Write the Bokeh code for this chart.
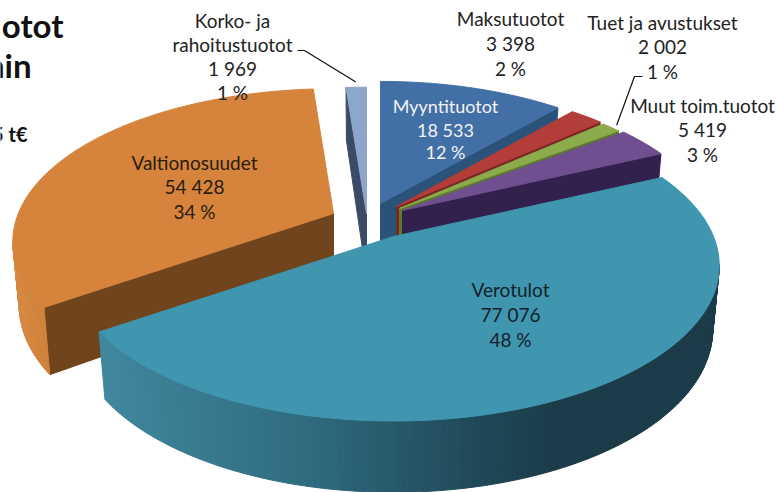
import math
from bokeh.plotting import figure
from bokeh.models import Range1d
from bokeh.core.properties import value
from bokeh.embed import file_html
from bokeh.resources import INLINE

# ---- chart values
names = ["Myyntituotot", "Maksutuotot", "Tuet ja avustukset", "Muut toim.tuotot", "Verotulot", "Valtionosuudet", "Korko- ja rahoitustuotot"]
values = [18533, 3398, 2002, 5419, 77076, 54428, 1969]
value_labels = ["18 533", "3 398", "2 002", "5 419", "77 076", "54 428", "1 969"]
pct_labels = ["12 %", "2 %", "1 %", "3 %", "48 %", "34 %", "1 %"]
title_lines = ["otot", "hin", "5 t€"]

# ---- styles and layout
top_col = ["#426fa6", "#b23d39", "#8cab4c", "#6f4f8f", "#4095af", "#d6843c", "#8fa6cc"]
cut_col = ["#2b5379", "#7a2624", "#5f7a2e", "#33214d", "#1a3b47", "#70441c", "#3b4a66"]
apex = [(380, 203), (396, 206), (399, 208), (402, 210), (393, 236), (333, 213), (366, 213)]
rscale = [0.96, 0.95, 0.95, 0.96, 1.0, 0.985, 1.0]
rim_stops = {4: [(100, "#40879e"), (300, "#2f6c80"), (480, "#1f4857"), (560, "#1a3b47"), (730, "#1a3b47")],
             5: [(10, "#d88a42"), (60, "#cc7d35")]}
A, B, K = 320.0, 150.0, 0.187
DEPTH, KD, SHRINK = 62.0, 0.15, 0.02
draw_order = [6, 0, 1, 2, 3, 5, 4]
label_font = value("Lato")
label_size = "19px"


def project(i, th, r, z):
    u = r * rscale[i] * math.sin(th)
    v = r * rscale[i] * math.cos(th)
    w = 1 + K * v
    ax, ay = apex[i]
    x = ax + A * u / w * (1 - SHRINK * z)
    y = ay - B * v / w + z * DEPTH * (1 - KD * v)
    return x, y


def hexlerp(c1, c2, t):
    a = [int(c1[j:j + 2], 16) for j in (1, 3, 5)]
    b = [int(c2[j:j + 2], 16) for j in (1, 3, 5)]
    return "#%02x%02x%02x" % tuple(round(p + (q - p) * t) for p, q in zip(a, b))


def rim_colour(i, x):
    stops = rim_stops.get(i)
    if not stops:
        return cut_col[i]
    if x <= stops[0][0]:
        return stops[0][1]
    for (x0, c0), (x1, c1) in zip(stops, stops[1:]):
        if x <= x1:
            return hexlerp(c0, c1, (x - x0) / (x1 - x0))
    return stops[-1][1]


def inner_above(p, q, m):
    """True when m lies above (smaller y) the screen line p-q, so the wall below p-q faces the viewer."""
    if abs(q[0] - p[0]) < 1e-6:
        return False
    yl = p[1] + (q[1] - p[1]) * (m[0] - p[0]) / (q[0] - p[0])
    return m[1] < yl


total = sum(values)
xs, ys, cols = [], [], []
cum = 0
ranges = []
for val in values:
    ranges.append((cum / total * 2 * math.pi, (cum + val) / total * 2 * math.pi))
    cum += val


def add(poly, col):
    xs.append([a for a, _ in poly])
    ys.append([b for _, b in poly])
    cols.append(col)


for i in draw_order:
    t0, t1 = ranges[i]
    n = max(4, int((t1 - t0) * 60))
    ths = [t0 + (t1 - t0) * j / n for j in range(n + 1)]
    mid = project(i, (t0 + t1) / 2, 0.6, 0)
    ap, apb = project(i, 0, 0, 0), project(i, 0, 0, 1)
    # straight cut walls
    for th in (t0, t1):
        p, pb = project(i, th, 1, 0), project(i, th, 1, 1)
        if inner_above(ap, p, mid):
            add([ap, p, pb, apb], cut_col[i])
    # rounded rim
    for a, b in zip(ths, ths[1:]):
        p, q = project(i, a, 1, 0), project(i, b, 1, 0)
        if inner_above(p, q, ap):
            pb, qb = project(i, a, 1, 1), project(i, b, 1, 1)
            add([p, q, qb, pb], rim_colour(i, (p[0] + q[0]) / 2))
    # top face
    add([ap] + [project(i, th, 1, 0) for th in ths], top_col[i])

p = figure(width=777, height=492, toolbar_location=None, output_backend="svg",
           x_range=Range1d(0, 777), y_range=Range1d(492, 0), min_border=0)
p.axis.visible = False
p.grid.visible = False
p.outline_line_color = None
p.background_fill_color = "white"
p.patches(xs, ys, fill_color=cols, line_color=cols, line_width=1.0)

# leader lines, tied to the slices they point at
kx, ky = project(6, (ranges[6][0] + ranges[6][1]) / 2, 1.05, 0)
p.line([297, 304, kx], [50, 50, ky], line_color="#111111", line_width=1.2)
tx, ty = project(2, (ranges[2][0] + ranges[2][1]) / 2, 1.03, 0)
p.line([642, 634, tx], [76, 76, ty], line_color="#111111", line_width=1.2)

label_pos = {
    0: (445, [105, 129, 151], "#f2f2f2", "18px"),
    1: (510, [18, 43, 68], "#222222", label_size),
    2: (662, [22, 46, 71], "#222222", label_size),
    3: (702, [105, 129, 154], "#222222", label_size),
    4: (510, [289, 314, 339], "#14222a", label_size),
    5: (194, [162, 186, 211], "#2a1c10", label_size),
    6: (232, [20, 44, 68, 92], "#222222", label_size),
}
lx, ly, lt, lc, ls = [], [], [], [], []
for i, (cx, yy, col, size) in label_pos.items():
    nm = names[i]
    lines = ["Korko- ja", "rahoitustuotot"] if i == 6 else [nm]
    lines = lines + [value_labels[i], pct_labels[i]]
    for s, yv in zip(lines, yy):
        lx.append(cx); ly.append(yv); lt.append(s); lc.append(col); ls.append(size)
p.text(lx, ly, text=lt, text_color=lc, text_font=label_font, text_font_size=ls,
       text_align="center", text_baseline="middle")

p.text([63, 31], [24, 64], text=title_lines[:2], text_color="#111111", text_font=value("Lato"),
       text_font_size="33px", text_font_style="bold", text_align="right", text_baseline="middle")
p.text([27], [133], text=title_lines[2:], text_color="#111111", text_font=value("Lato"),
       text_font_size="20px", text_font_style="bold", text_align="right", text_baseline="middle")

open("out.html", "w").write(file_html(p, INLINE))
